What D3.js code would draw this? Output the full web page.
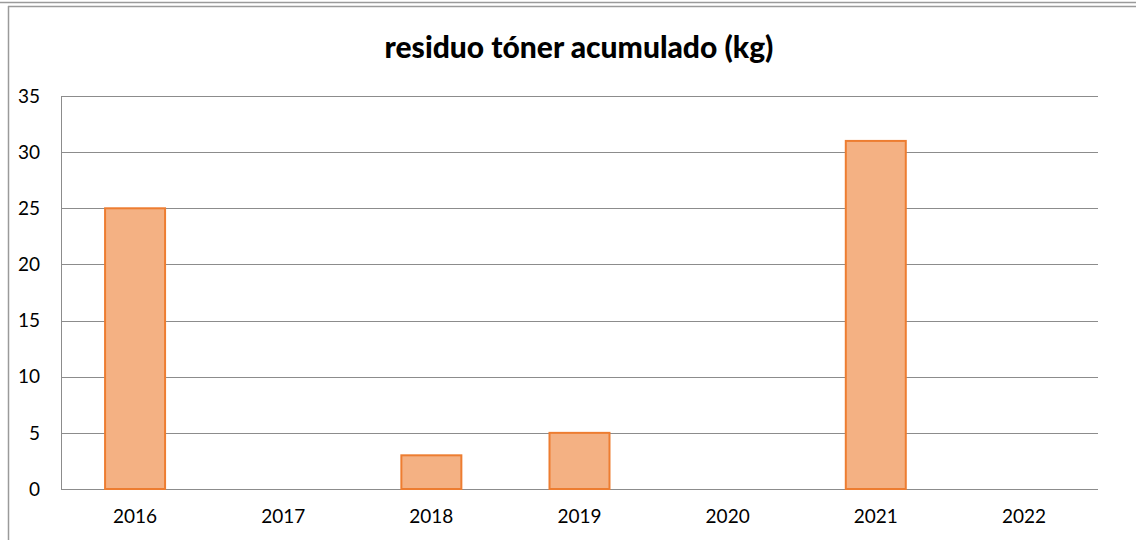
<!DOCTYPE html>
<html><head><meta charset="utf-8">
<script src="https://cdn.jsdelivr.net/npm/d3@7"></script>
<style>html,body{margin:0;padding:0;background:#fff;overflow:hidden}</style>
</head><body>
<svg id="c" width="1136" height="540"></svg>
<script>
const categories = ["2016","2017","2018","2019","2020","2021","2022"];
const values = [25, 0, 3, 5, 0, 31, 0];
const yTicks = [0,5,10,15,20,25,30,35];
const title = "residuo tóner acumulado (kg)";

const svg = d3.select("#c");
const font = "Lato, 'Open Sans', sans-serif";
// frame lines
svg.append("line").attr("x1",0).attr("x2",1136).attr("y1",2.5).attr("y2",2.5).attr("stroke","#9a9a9a").attr("stroke-width",1.5);
svg.append("line").attr("x1",8).attr("x2",1136).attr("y1",6.5).attr("y2",6.5).attr("stroke","#9a9a9a").attr("stroke-width",1.5);
svg.append("line").attr("x1",8.5).attr("x2",8.5).attr("y1",6).attr("y2",540).attr("stroke","#9a9a9a").attr("stroke-width",1.5);

const L=61, R=1098, T=96, B=489;
const x = d3.scaleBand().domain(categories).range([L,R]).paddingInner(0.595).paddingOuter(0.2975);
const y = d3.scaleLinear().domain([0,35]).range([B,T]);

// gridlines
svg.append("g").selectAll("line").data(yTicks).join("line")
  .attr("x1",L).attr("x2",R).attr("y1",d=>Math.round(y(d))+0.5).attr("y2",d=>Math.round(y(d))+0.5)
  .attr("stroke","#8c8c8c").attr("stroke-width",1);
svg.append("line").attr("x1",L+0.5).attr("x2",L+0.5).attr("y1",T).attr("y2",B+0.5).attr("stroke","#8c8c8c");

// bars
const barData = values.map((v,i)=>({c:categories[i],v})).filter(d=>d.v>0);
svg.append("g").selectAll("rect").data(barData)
  .join("rect")
  .attr("x",d=>x(d.c)).attr("width",x.bandwidth())
  .attr("y",d=>y(d.v)).attr("height",d=>y(0)-y(d.v))
  .attr("fill","#F4B183").attr("stroke","#ED7D31").attr("stroke-width",2);

// y axis labels
svg.append("g").selectAll("text").data(yTicks).join("text")
  .attr("x",40).attr("y",d=>y(d)).attr("dy","0.35em").attr("text-anchor","end")
  .attr("font-family",font).attr("font-size",19).attr("fill","#000").text(d=>d);

// x axis labels
svg.append("g").selectAll("text").data(categories).join("text")
  .attr("x",d=>x(d)+x.bandwidth()/2).attr("y",523).attr("text-anchor","middle")
  .attr("font-family",font).attr("font-size",19).attr("fill","#000").text(d=>d);

svg.append("text").attr("x",579).attr("y",58).attr("text-anchor","middle")
  .attr("font-family",font).attr("font-weight","900").attr("font-size",30).attr("fill","#000").text(title);
</script>
</body></html>
